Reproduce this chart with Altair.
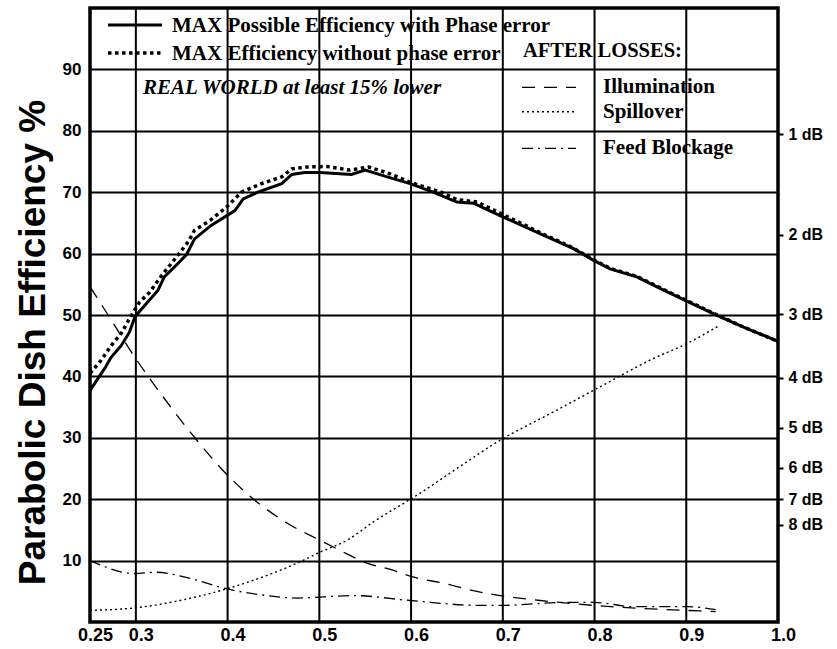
import altair as alt
import pandas as pd

# ---------------- data ----------------
# MAX possible efficiency with phase error (solid)
phase_x = [0.25, 0.266, 0.273, 0.284, 0.293, 0.299, 0.311, 0.324, 0.331, 0.344, 0.355,
           0.364, 0.382, 0.408, 0.417, 0.433, 0.459, 0.470, 0.484, 0.501, 0.535, 0.550,
           0.574, 0.599, 0.624, 0.650, 0.668, 0.697, 0.741, 0.777, 0.799, 0.817, 0.846,
           0.872, 0.900, 0.934, 0.963, 1.0]
phase_y = [37.7, 41.3, 43.1, 45.0, 47.2, 49.7, 51.8, 54.0, 56.2, 58.1, 59.8,
           62.4, 64.6, 67.0, 68.9, 70.0, 71.4, 72.9, 73.2, 73.2, 72.9, 73.6,
           72.5, 71.4, 70.0, 68.4, 68.2, 66.2, 63.2, 60.8, 58.9, 57.5, 56.2,
           54.3, 52.3, 49.9, 48.0, 45.7]

# MAX efficiency without phase error (thick dotted)
nophase_x = [0.25, 0.262, 0.273, 0.284, 0.295, 0.304, 0.315, 0.328, 0.344, 0.357, 0.364,
             0.381, 0.399, 0.415, 0.437, 0.459, 0.470, 0.486, 0.508, 0.533, 0.554, 0.577,
             0.599, 0.633, 0.650, 0.672, 0.697, 0.741, 0.777, 0.799, 0.817, 0.846, 0.872,
             0.900, 0.934, 0.963, 1.0]
nophase_y = [40.5, 42.6, 45.0, 47.0, 49.9, 52.1, 53.7, 56.4, 59.4, 61.9, 63.8,
             65.4, 67.6, 70.0, 71.4, 72.5, 73.8, 74.1, 74.2, 73.6, 74.1, 73.0,
             71.6, 70.0, 68.8, 68.4, 66.6, 63.4, 60.9, 59.0, 57.6, 56.3, 54.4,
             52.4, 50.0, 48.0, 45.7]

# Illumination loss (dashed)
illum_x = [0.25, 0.271, 0.299, 0.331, 0.36, 0.40, 0.43, 0.466, 0.501, 0.530, 0.548,
           0.581, 0.603, 0.639, 0.668, 0.697, 0.741, 0.799, 0.853, 0.915, 0.932]
illum_y = [54.6, 49.7, 43.1, 36.4, 30.8, 23.9, 19.8, 16.0, 13.3, 11.1, 9.8,
           8.4, 7.3, 6.2, 5.1, 4.3, 3.5, 2.7, 2.2, 1.8, 1.7]

# Spillover loss (fine dotted)
spill_x = [0.25, 0.299, 0.348, 0.399, 0.443, 0.479, 0.501, 0.530, 0.559, 0.61, 0.65,
           0.697, 0.75, 0.806, 0.864, 0.900, 0.934]
spill_y = [1.9, 2.3, 3.5, 5.4, 7.6, 9.8, 11.4, 13.3, 16.3, 21.0, 25.0,
           29.6, 33.8, 38.3, 42.9, 45.3, 48.1]

# Feed blockage loss (dash-dot)
feed_x = [0.25, 0.299, 0.322, 0.359, 0.399, 0.443, 0.475, 0.537, 0.599, 0.675, 0.697,
          0.770, 0.799, 0.843, 0.901, 0.932]
feed_y = [10.0, 7.9, 8.1, 7.1, 5.4, 4.3, 3.9, 4.3, 3.5, 2.7, 2.7,
          3.2, 3.2, 2.5, 2.5, 2.0]

x_ticks = [0.25, 0.3, 0.4, 0.5, 0.6, 0.7, 0.8, 0.9, 1.0]
x_grid = [0.3, 0.4, 0.5, 0.6, 0.7, 0.8, 0.9]
y_ticks = [10, 20, 30, 40, 50, 60, 70, 80, 90]
db_ticks = [1, 2, 3, 4, 5, 6, 7, 8]

legend_main = ["MAX Possible Efficiency with Phase error", "MAX Efficiency without phase error"]
legend_note = "REAL WORLD at least 15% lower"
legend_after = "AFTER LOSSES:"
legend_loss = ["Illumination", "Spillover", "Feed Blockage"]
y_title = "Parabolic Dish Efficiency %"

# ---------------- chart ----------------
W, H = 688, 614
SANS = "Liberation Sans"
SERIF = "Liberation Serif"
NARROW = "Liberation Sans Narrow, Arial Narrow, Liberation Sans"

xs = alt.Scale(domain=[0.25, 1.0], nice=False, zero=False)
ys = alt.Scale(domain=[0, 100], nice=False, zero=False)

x_axis = alt.Axis(
    values=x_ticks, grid=False, ticks=False, domain=False, title=None,
    labelExpr="datum.value == 1 ? '1.0' : toString(datum.value)",
    labelFont=NARROW, labelFontSize=18, labelFontWeight="bold", labelColor="black",
    labelPadding=4, labelOffset=5, labelFlush=False, labelOverlap=False)


def curve(xv, yv, interp="linear", **mark):
    df = pd.DataFrame({"x": xv, "y": yv})
    return alt.Chart(df).mark_line(color="black", interpolate=interp, strokeCap="butt", **mark).encode(
        x=alt.X("x:Q", scale=xs, axis=x_axis),
        y=alt.Y("y:Q", scale=ys, axis=None),
        order="x:Q",
    )


one = pd.DataFrame({"k": [0]})

# axes / grid layer (left + bottom)
grid_df = pd.DataFrame({"x": [0.25, 1.0], "y": [0, 100]})
axes_layer = alt.Chart(grid_df).mark_point(opacity=0).encode(
    x=alt.X("x:Q", scale=xs, axis=x_axis),
    y=alt.Y("y:Q", scale=ys, axis=alt.Axis(
        values=y_ticks, grid=True, gridColor="black", gridWidth=2, gridOpacity=1,
        ticks=False, domain=False, title=y_title,
        labelFont=SANS, labelFontSize=17, labelFontWeight="bold", labelColor="black",
        labelPadding=9, titleFont=SANS, titleFontSize=37, titleFontWeight="bold",
        titleColor="black", titleX=-46, titleY=334, titleBaseline="alphabetic",
        titleAngle=270, titleAlign="center")),
)

# vertical grid lines
vgrid = alt.Chart(pd.DataFrame({"x": x_grid})).mark_rule(color="black", strokeWidth=2).encode(
    x=alt.X("x:Q", scale=xs, axis=x_axis))

# right dB axis
db_values = [100 * 10 ** (-d / 10) for d in db_ticks]
right_axis = alt.Chart(pd.DataFrame({"y": [0, 100]})).mark_point(opacity=0).encode(
    y=alt.Y("y:Q", scale=ys, axis=alt.Axis(
        orient="right", values=db_values, grid=False, domain=False, title=None,
        ticks=True, tickSize=5, tickWidth=2, tickColor="black",
        labelExpr="round(-10*log(datum.value/100)/LN10) + ' dB'",
        labelFont=SANS, labelFontSize=16, labelFontWeight="bold", labelColor="black",
        labelPadding=5, labelOverlap=False, labelFlush=False)),
)

lines = [
    curve(spill_x, spill_y, "monotone", strokeWidth=1.4, strokeDash=[2, 3]),
    curve(feed_x, feed_y, "monotone", strokeWidth=1.3, strokeDash=[11, 5, 2, 5]),
    curve(illum_x, illum_y, "monotone", strokeWidth=1.3, strokeDash=[13, 9]),
    curve(nophase_x, nophase_y, strokeWidth=3.5, strokeDash=[3.5, 3.5]),
    curve(phase_x, phase_y, strokeWidth=3),
]


def leg_rule(x1, x2, y, **mark):
    return alt.Chart(one).mark_rule(color="black", strokeCap="butt", **mark).encode(
        x=alt.value(x1), x2=alt.value(x2), y=alt.value(y))


def leg_text(txt, x, y, size=21, style="normal"):
    return alt.Chart(pd.DataFrame({"t": [txt]})).mark_text(
        align="left", baseline="alphabetic", font=SERIF, fontSize=size,
        fontWeight="bold", fontStyle=style, color="black").encode(
        text="t:N", x=alt.value(x), y=alt.value(y))


legend = [
    leg_rule(18, 72, 17, strokeWidth=3),
    leg_text(legend_main[0], 82, 23.5),
    leg_rule(18, 72, 45, strokeWidth=3.5, strokeDash=[3.5, 3.5]),
    leg_text(legend_main[1], 82, 52),
    leg_text(legend_note, 53, 86.3, style="italic"),
    leg_text(legend_after, 433, 49, size=20.5),
    leg_rule(432, 486, 79.3, strokeWidth=1.3, strokeDash=[13, 9]),
    leg_text(legend_loss[0], 513, 85.3),
    leg_rule(432, 486, 103.7, strokeWidth=1.4, strokeDash=[2, 3]),
    leg_text(legend_loss[1], 513, 110.3),
    leg_rule(432, 486, 140.3, strokeWidth=1.3, strokeDash=[11, 5, 2, 5]),
    leg_text(legend_loss[2], 513, 146),
]

chart = alt.layer(axes_layer, vgrid, right_axis, *lines, *legend).resolve_scale(
    y="independent"
).properties(
    width=W, height=H,
    autosize=alt.AutoSizeParams(type="none"),
    padding={"left": 90, "top": 8, "right": 59, "bottom": 27},
    background="white",
).configure_view(stroke="black", strokeWidth=3.5)

chart.save("out.html", embed_options={"renderer": "svg", "actions": False})
